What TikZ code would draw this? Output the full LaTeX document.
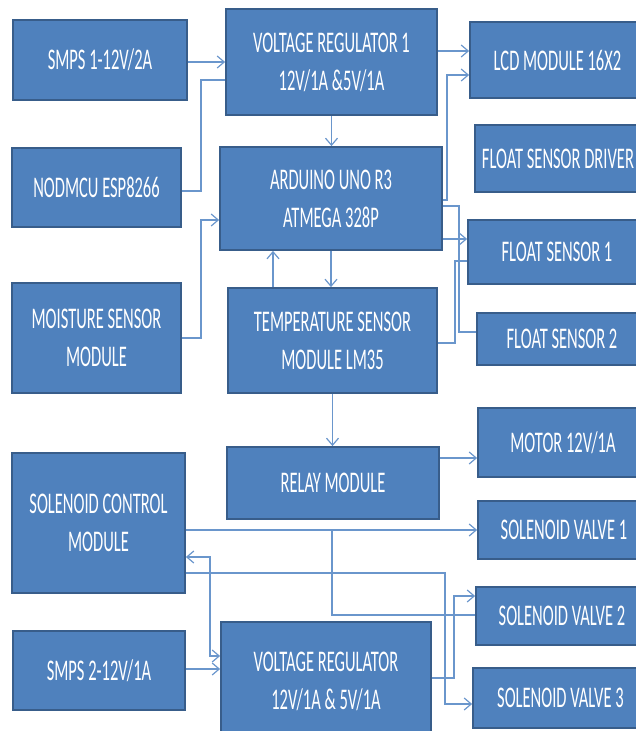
\documentclass[tikz,border=0pt]{standalone}
\usepackage{fontspec}
\setmainfont[FakeStretch=0.55]{Carlito}
\usetikzlibrary{arrows.meta}
\definecolor{boxblue}{HTML}{4F81BD}
\definecolor{boxedge}{HTML}{385D8A}
\definecolor{wireblue}{HTML}{6A96CC}
\begin{document}
\begin{tikzpicture}[x=1pt,y=-1pt,
  blk/.style={draw=boxedge,line width=1.8pt,fill=boxblue,text=white,inner sep=0pt,align=center,font=\fontsize{30}{38}\selectfont},
  wire/.style={draw=wireblue,line width=1.2pt},
  arr/.style={wire,-{Straight Barb[length=7pt,width=12pt]}},
  arrs/.style={wire,{Straight Barb[length=7pt,width=12pt]}-{Straight Barb[length=7pt,width=12pt]}}]
    \useasboundingbox (0,0) rectangle (636,731);
    \clip (0,0) rectangle (636,731);
    \node[blk,minimum width=174pt,minimum height=80pt] (smpsone) at (100,60) {SMPS 1-12V/2A};
    \node[blk,minimum width=169pt,minimum height=79pt] (nodmcu) at (96.5,187.5) {NODMCU ESP8266};
    \node[blk,minimum width=169pt,minimum height=110pt] (moist) at (96.5,338) {MOISTURE SENSOR\\MODULE};
    \node[blk,minimum width=211pt,minimum height=106pt] (vrone) at (331.5,62) {VOLTAGE REGULATOR 1\\12V/1A \&5V/1A};
    \node[blk,minimum width=222pt,minimum height=103pt] (arduino) at (331,198.5) {ARDUINO UNO R3\\ATMEGA 328P};
    \node[blk,minimum width=209pt,minimum height=105pt] (temp) at (332.5,340.5) {TEMPERATURE SENSOR\\MODULE LM35};
    \node[blk,minimum width=212pt,minimum height=72pt] (relay) at (333,483) {RELAY MODULE};
    \node[blk,minimum width=173pt,minimum height=140pt] (solctl) at (98.5,523) {SOLENOID CONTROL\\MODULE};
    \node[blk,minimum width=172pt,minimum height=79pt] (smpstwo) at (99,670.5) {SMPS 2-12V/1A};
    \node[blk,minimum width=210pt,minimum height=119pt] (vrtwo) at (326,681.5) {VOLTAGE REGULATOR\\12V/1A \& 5V/1A};
    \node[blk,minimum width=175pt,minimum height=76pt] (lcd) at (557.5,60) {LCD MODULE 16X2};
    \node[blk,minimum width=166pt,minimum height=67pt] (fltdrv) at (558,158.5) {FLOAT SENSOR DRIVER};
    \node[blk,minimum width=178pt,minimum height=64pt] (fltone) at (557,252) {FLOAT SENSOR 1};
    \node[blk,minimum width=170pt,minimum height=52pt] (flttwo) at (562,339) {FLOAT SENSOR 2};
    \node[blk,minimum width=170pt,minimum height=69pt] (motor) at (563,442.5) {MOTOR 12V/1A};
    \node[blk,minimum width=172pt,minimum height=58pt] (svone) at (564,530) {SOLENOID VALVE 1};
    \node[blk,minimum width=172pt,minimum height=58pt] (svtwo) at (562,616) {SOLENOID VALVE 2};
    \node[blk,minimum width=175pt,minimum height=60pt] (svthree) at (560.5,698) {SOLENOID VALVE 3};
    \coordinate (tap) at (332,530);
    \draw[arr] (smpsone.east |- 0,62) -- (vrone.west |- 0,62);
    \draw[wire] (nodmcu.east |- 0,191) -| (201,80) -- (vrone.west |- 0,80);
    \draw[arr] (moist.east |- 0,338) -| (201,220) -- (arduino.west |- 0,220);
    \draw[arr] (vrone.south) -- (vrone.south |- arduino.north);
    \draw[arr] (arduino.south) -- (arduino.south |- temp.north);
    \draw[arr] (temp.north -| 273,0) -- (arduino.south -| 273,0);
    \draw[arr] (vrone.east |- 0,51) -- (lcd.west |- 0,51);
    \draw[arr] (arduino.east |- 0,200) -| (447,75) -- (lcd.west |- 0,75);
    \draw[wire] (arduino.east |- 0,206) -| (459,332) -- (flttwo.west |- 0,332);
    \draw[arr] (arduino.east |- 0,239) -- (fltone.west |- 0,239);
    \draw[wire] (temp.east |- 0,343) -| (455,261) -- (fltone.west |- 0,261);
    \draw[arr] (temp.south) -- (temp.south |- relay.north);
    \draw[arr] (relay.east |- 0,458) -- (motor.west |- 0,458);
    \draw[arr] (solctl.east |- 0,530) -- (svone.west |- 0,530);
    \draw[wire] (tap) |- (svtwo.west |- 0,615);
    \draw[arr] (solctl.east |- 0,573) -| (445,704) -- (svthree.west |- 0,704);
    \draw[arr] (vrtwo.east |- 0,678) -| (454,596) -- (svtwo.west |- 0,596);
    \draw[arrs] (solctl.east |- 0,557) -| (210,656) -- (vrtwo.west |- 0,656);
    \draw[arr] (smpstwo.east |- 0,669) -- (vrtwo.west |- 0,669);
\end{tikzpicture}
\end{document}
